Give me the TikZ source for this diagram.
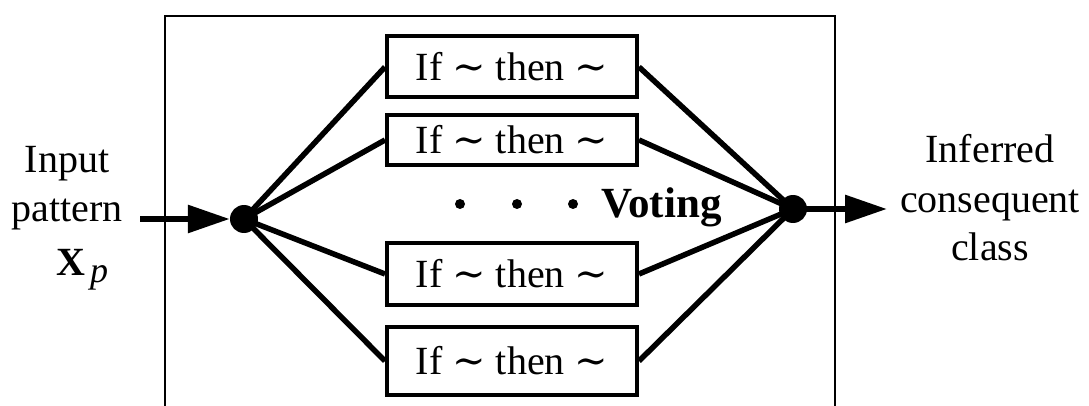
\documentclass[tikz,border=0pt]{standalone}
\usepackage{fontspec}
\setmainfont{Liberation Serif}
\newfontfamily\tildefont{DejaVu Serif}
\usetikzlibrary{arrows.meta}
\newcommand{\tld}{{\tildefont ∼}}
\tikzset{
  rulebox/.style={draw, line width=4pt, minimum width=250pt, inner sep=0pt, font=\rmfamily\fontsize{40}{48}\selectfont},
  dotnode/.style={circle, fill=black, draw=none, minimum size=28pt, inner sep=0pt},
  smalldot/.style={circle, fill=black, draw=none, minimum size=10pt, inner sep=0pt},
  conn/.style={line width=5.5pt},
  bigarrow/.style={line width=6pt, -{Triangle[length=42pt,width=27pt]}},
  lbl/.style={anchor=base, inner sep=0pt, font=\rmfamily\fontsize{40}{48}\selectfont},
  frame/.style={line width=2pt}
}
\begin{document}
\begin{tikzpicture}[x=1pt,y=-1pt]
\useasboundingbox (0,0) rectangle (1089,406);
\fill[white] (0,0) rectangle (1089,406);
% outer frame
\draw[frame] (165,406) -- (165,16) -- (835,16) -- (835,406);
% rule boxes
\node[rulebox, minimum height=61pt] (r1) at (512,67) {If \tld{} then \tld};
\node[rulebox, minimum height=50pt] (r2) at (512,140) {If \tld{} then \tld};
\node[rulebox, minimum height=62pt] (r3) at (512,274) {If \tld{} then \tld};
\node[rulebox, minimum height=68pt] (r4) at (512,361) {If \tld{} then \tld};
% junction dots
\node[dotnode] (ld) at (244,219) {};
\node[dotnode] (rd) at (793,209) {};
% connectors
\foreach \r in {r1,r2,r3,r4}{
  \draw[conn] (ld.center) -- (\r.west);
  \draw[conn] (\r.east) -- (rd.center);
}
% arrows
\coordinate (inS) at (140,219);
\coordinate (outE) at (887,209);
\draw[bigarrow] (inS) -- (ld.west);
\draw[bigarrow] (rd.center) -- (outE);
% ellipsis dots and voting
\node[smalldot] (e1) at (460,204) {};
\node[smalldot] (e2) at (517,204) {};
\node[smalldot] (e3) at (573,204) {};
\node[lbl, anchor=base west, font=\rmfamily\fontsize{43}{48}\selectfont\bfseries] (vote) at (601,218) {Voting};
% input label
\node[lbl] (in1) at (67,173) {Input};
\node[lbl] (in2) at (67,222) {pattern};
\node[lbl, anchor=base west] (in3) at (56,275) {\textbf{X}\hspace{5pt}\raisebox{-7pt}{\fontsize{36}{40}\selectfont\itshape p}};
% output label
\node[lbl] (out1) at (990,163) {Inferred};
\node[lbl] (out2) at (990,212) {consequent};
\node[lbl] (out3) at (990,260) {class};
\end{tikzpicture}
\end{document}
